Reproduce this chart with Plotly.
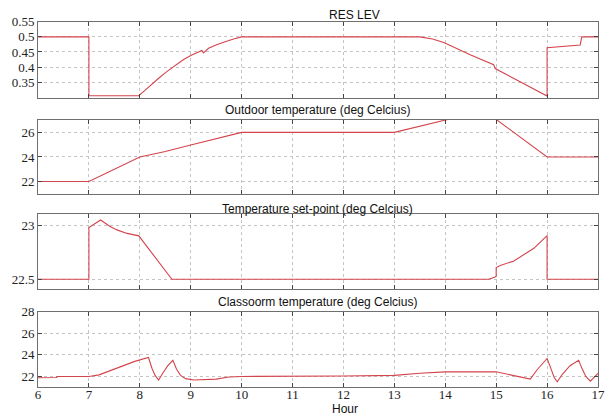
import plotly.graph_objects as go

# ---------------- data ----------------
hours_res = [6, 7, 7, 7.98, 8.1, 8.21, 8.37, 8.53, 8.7, 8.86, 9.02, 9.19, 9.22, 9.25, 9.35,
             9.52, 9.68, 9.84, 10.0, 13.5, 13.75, 13.97, 14.5, 14.95, 14.98, 16.0, 16.0,
             16.65, 16.68, 17]
res_lev = [0.5, 0.5, 0.305, 0.305, 0.323, 0.34, 0.363, 0.385, 0.406, 0.425, 0.44, 0.453,
           0.455, 0.447, 0.462, 0.475, 0.485, 0.493, 0.5, 0.5, 0.493, 0.481, 0.44, 0.408,
           0.395, 0.304, 0.464, 0.473, 0.5, 0.5]

hours_out = [6, 7, 8, 8.5, 9, 9.5, 10, 13, 14, 14.5, 15, 16, 17]
outdoor_temp = [22, 22, 24, 24.45, 24.98, 25.5, 26, 26, 27.06, 27.5, 27.05, 24, 24]

hours_set = [6, 7, 7, 7.23, 7.4, 7.55, 7.75, 7.98, 8.63, 14.85, 14.97, 15.0, 15.0, 15.08,
             15.34, 15.74, 16.0, 16.0, 17]
setpoint = [22.5, 22.5, 22.985, 23.056, 23.0, 22.963, 22.93, 22.907, 22.5, 22.5, 22.52,
            22.53, 22.61, 22.63, 22.67, 22.79, 22.91, 22.5, 22.5]

hours_room = [6, 6.37, 6.37, 7.0, 7.2, 7.55, 7.9, 8.17, 8.24, 8.3, 8.37, 8.45, 8.55, 8.65,
              8.72, 8.8, 8.9, 9.06, 9.5, 9.75, 10.0, 12.0, 13.0, 13.5, 14.0, 15.0, 15.3,
              15.67, 15.8, 15.95, 16.0, 16.07, 16.14, 16.2, 16.3, 16.45, 16.62, 16.68,
              16.76, 16.85, 16.93, 17.0]
room_temp = [21.88, 21.9, 22.0, 22.0, 22.15, 22.8, 23.4, 23.76, 22.74, 22.1, 21.67, 22.3,
             23.0, 23.5, 22.7, 22.1, 21.8, 21.67, 21.75, 21.95, 22.0, 22.04, 22.1, 22.3,
             22.43, 22.43, 22.15, 21.76, 22.6, 23.4, 23.67, 22.8, 21.9, 21.5, 22.2, 23.0,
             23.5, 22.8, 22.0, 21.57, 21.9, 22.28]

titles = ["RES LEV", "Outdoor temperature (deg Celcius)",
          "Temperature set-point (deg Celcius)", "Classoorm temperature (deg Celcius)"]
xticks = list(range(6, 18))
yticks = [[0.35, 0.4, 0.45, 0.5, 0.55], [22, 24, 26], [22.5, 23], [22, 24, 26, 28]]
yticktext = [["0.35", "0.4", "0.45", "0.5", "0.55"], ["22", "24", "26"],
             ["22.5", "23"], ["22", "24", "26", "28"]]
yranges = [[0.296, 0.55], [21, 27], [22.41, 23.11], [21, 28]]

# ---------------- layout ----------------
W, H = 606, 419
ML, MR = 38, 8
pix_dom = [(15, 93), (115, 190), (210.7, 286.7), (310, 386.7)]
title_pos = [(354, 8), (317, 105), (317, 205), (317, 300)]

LINE = "#d4444c"
FRAME = "#6f6f6f"
GRID = "#c4c4c4"
serif = "Liberation Serif"
sans = "Liberation Sans"

fig = go.Figure()
series = [(hours_res, res_lev), (hours_out, outdoor_temp), (hours_set, setpoint),
          (hours_room, room_temp)]
for i, (xs, ys) in enumerate(series):
    sfx = "" if i == 0 else str(i + 1)
    fig.add_trace(go.Scatter(x=xs, y=ys, mode="lines", line=dict(color=LINE, width=1.1),
                             xaxis="x" + sfx, yaxis="y" + sfx, showlegend=False,
                             hoverinfo="skip"))

layout = dict(width=W, height=H, margin=dict(l=ML, r=MR, t=0, b=0),
              paper_bgcolor="white", plot_bgcolor="white", showlegend=False)
for i in range(4):
    sfx = "" if i == 0 else str(i + 1)
    top, bot = pix_dom[i]
    dom = [1 - bot / H, 1 - top / H]
    layout["xaxis" + sfx] = dict(
        domain=[0, 1], range=[6, 17], anchor="y" + sfx,
        tickvals=xticks, showticklabels=(i == 3),
        ticks="inside", ticklen=4, tickcolor="#444", mirror="allticks",
        showline=True, linecolor=FRAME, linewidth=1,
        showgrid=True, gridcolor=GRID, griddash="dot", gridwidth=1,
        zeroline=False, tickfont=dict(family=serif, size=13, color="#222"),
        ticklabelstandoff=-5, fixedrange=True)
    layout["yaxis" + sfx] = dict(
        domain=dom, range=yranges[i], anchor="x" + sfx,
        tickvals=yticks[i], ticktext=yticktext[i],
        ticks="inside", ticklen=4, tickcolor="#444", mirror="allticks",
        showline=True, linecolor=FRAME, linewidth=1,
        showgrid=True, gridcolor=GRID, griddash="dot", gridwidth=1,
        zeroline=False, tickfont=dict(family=serif, size=13, color="#222"),
        fixedrange=True)
fig.update_layout(**layout)

PW = W - ML - MR
for i, t in enumerate(titles):
    px, py = title_pos[i]
    fig.add_annotation(text=t, xref="paper", yref="paper",
                       x=(px - ML) / PW, y=1 - py / H, xanchor="center", yanchor="middle",
                       showarrow=False, font=dict(family=sans, size=12, color="#111"))
fig.add_annotation(text="Hour", xref="paper", yref="paper", x=(345 - ML) / PW,
                   y=1 - 409 / H, xanchor="center", yanchor="middle", showarrow=False,
                   font=dict(family=sans, size=12, color="#111"))

fig.write_html("out.html")
